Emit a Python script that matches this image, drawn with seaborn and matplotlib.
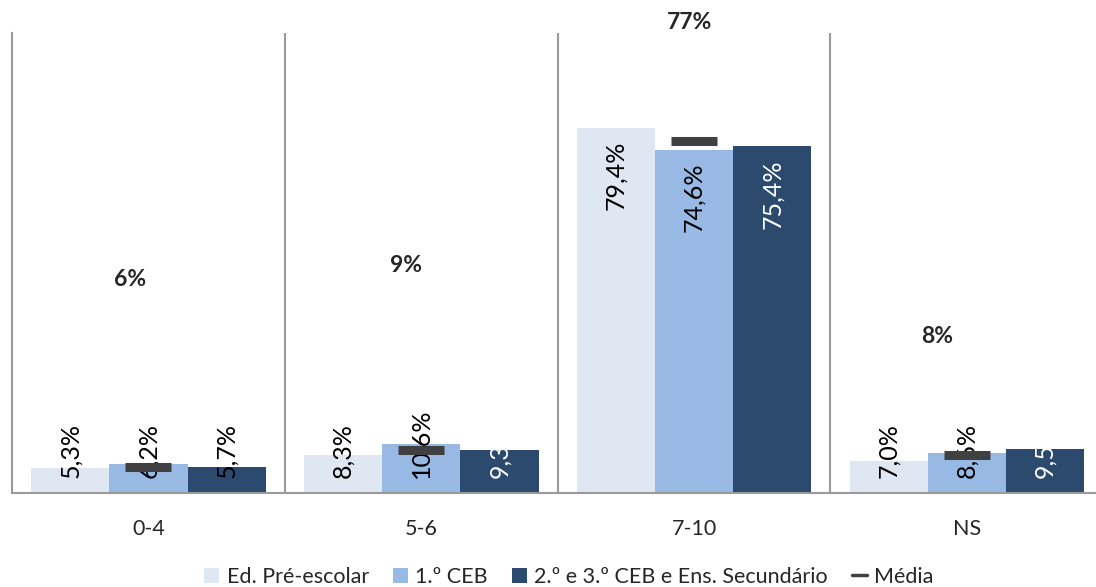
import numpy as np
import pandas as pd
import matplotlib
matplotlib.use("Agg")
import matplotlib.pyplot as plt
from matplotlib.patches import Patch
from matplotlib.lines import Line2D
import seaborn as sns

sns.set_style("white")
plt.rcParams["font.family"] = ["Lato", "DejaVu Sans"]

# data
categories = ["0-4", "5-6", "7-10", "NS"]
series = ["Ed. Pré-escolar", "1.º CEB", "2.º e 3.º CEB e Ens. Secundário"]
pre_escolar = [5.3, 8.3, 79.4, 7.0]
ceb1 = [6.2, 10.6, 74.6, 8.6]
ceb23_sec = [5.7, 9.3, 75.4, 9.5]
media = [5.6, 9.2, 76.6, 8.1]

colors = ["#dfe7f2", "#98b9e3", "#2b4a6e"]
dark_label_colors = ["black", "white", "white", "white"]
# manual placement of the bold "Média" labels (x offset in group units, y in %)
media_label_pos = [(-0.066, 46.4), (-0.055, 49.5), (-0.015, 102.3), (-0.11, 33.9)]

df = pd.DataFrame({
    "cat": np.tile(categories, 3),
    "serie": np.repeat(series, 4),
    "val": pre_escolar + ceb1 + ceb23_sec,
})

fig = plt.figure(figsize=(10.96, 5.87), dpi=100)
ax = fig.add_axes([0.011, 0.1606, 0.9956, 0.7832])

sns.barplot(data=df, x="cat", y="val", hue="serie", order=categories,
            hue_order=series, palette=colors, saturation=1, width=0.86,
            linewidth=0, legend=False, ax=ax)

def fmt(v):
    return f"{v:.1f}%".replace(".", ",")

# data labels, rotated like the Excel chart
for k, cont in enumerate(ax.containers):
    for i, bar in enumerate(cont):
        v = bar.get_height()
        x = bar.get_x() + bar.get_width() / 2
        col = "black" if k < 2 else dark_label_colors[i]
        if v > 20:
            ax.annotate(fmt(v), (x, v), xytext=(0, -9.5), textcoords="offset points",
                        rotation=90, ha="center", va="top", fontsize=18, color=col)
        else:
            ax.annotate(fmt(v), (x, 0), xytext=(0, 10.5), textcoords="offset points",
                        rotation=90, ha="center", va="bottom", fontsize=18, color=col)

# Média markers
xpos = np.arange(len(categories))
ax.plot(xpos, media, ls="none", marker="_", ms=33, mew=6.5, color="#404040", zorder=5)
for i, m in enumerate(media):
    dx, y = media_label_pos[i]
    ax.text(i + dx, y, f"{round(m)}%", ha="center", va="center", fontsize=16.5,
            fontweight="bold", clip_on=False)

ax.set_xlim(-0.5, len(categories) - 0.5)
ax.set_ylim(0, 100)
ax.set_xlabel("")
ax.set_ylabel("")
ax.set_yticks([])

for s in ["top", "right"]:
    ax.spines[s].set_visible(False)
for s in ["left", "bottom"]:
    ax.spines[s].set_color("#9a9a9a")
    ax.spines[s].set_linewidth(1.5)
for b in xpos[:-1] + 0.5:
    ax.axvline(b, color="#9a9a9a", lw=1.5, zorder=0)

ax.set_xticks(xpos)
ax.set_xticklabels(categories, fontsize=15.5)
ax.tick_params(axis="x", which="major", length=0, pad=19)
ax.set_xticks(np.arange(-0.5, len(categories) + 0.5), minor=True)
ax.tick_params(axis="x", which="minor", length=5, width=1.5, color="#9a9a9a", direction="out")

handles = [Patch(facecolor=c, edgecolor="none") for c in colors]
handles.append(Line2D([0], [0], color="#404040", lw=2.5))
fig.legend(handles, series + ["Média"], loc="center", bbox_to_anchor=(0.519, 0.017),
           ncol=4, frameon=False, fontsize=15.5, handlelength=0.7, handleheight=0.7,
           handletextpad=0.35, columnspacing=1.1, borderaxespad=0)

fig.savefig("out.png", dpi=100)
